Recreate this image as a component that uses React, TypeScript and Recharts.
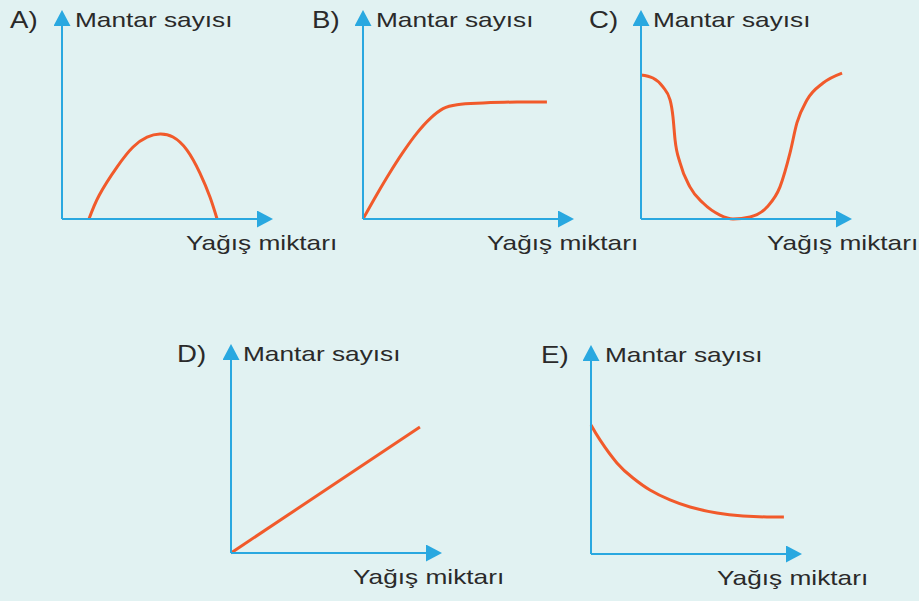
import React from 'react';
import { LineChart, Line, XAxis, YAxis } from 'recharts';

// Panel labels and axis titles
const panelKeys = ['A', 'B', 'C', 'D', 'E'];
const panelLetters = ['A)', 'B)', 'C)', 'D)', 'E)'];
const yAxisTitle = 'Mantar sayısı';
const xAxisTitle = 'Yağış miktarı';

// Curve values (0..100 along each axis)
const curveAX = [12.9, 17.8, 26.3, 34.0, 40.7, 46.9, 53.1, 59.8, 66.0, 70.8, 74.2];
const curveAY = [0, 11.5, 25.1, 34.8, 39.6, 41.1, 39.6, 33.3, 22.2, 10.6, 0];

const curveBX = [0, 6.7, 12.9, 19.1, 25.8, 32.1, 38.3, 45.0, 57.4, 73.7, 88.0];
const curveBY = [0, 12.0, 22.5, 32.2, 41.5, 48.5, 53.3, 55.2, 56.0, 56.5, 56.5];

const curveCX = [0, 5.7, 10.5, 13.9, 15.3, 16.3, 18.7, 23.4, 29.7, 37.8, 44.0, 52.2, 60.3, 66.5, 71.3, 74.6, 79.4, 87.1, 96.2];
const curveCY = [69.6, 68.1, 63.8, 57.5, 49.3, 38.2, 27.1, 15.5, 7.7, 1.9, 0, 1.0, 5.8, 15.5, 31.9, 46.4, 57.5, 65.7, 70.5];

const curveDX = [0, 90.4];
const curveDY = [0, 60.9];

const curveEX = [0, 4.3, 12.4, 20.1, 28.2, 37.8, 47.4, 60.3, 72.7, 84.2, 92.3];
const curveEY = [62.3, 55.1, 44.0, 36.7, 30.9, 26.1, 22.7, 19.8, 18.4, 17.9, 17.9];

const zip = (xs: number[], ys: number[]) => xs.map((x, i) => ({ x, y: ys[i] }));

const panelData: Record<string, { x: number; y: number }[]> = {
  A: zip(curveAX, curveAY),
  B: zip(curveBX, curveBY),
  C: zip(curveCX, curveCY),
  D: zip(curveDX, curveDY),
  E: zip(curveEX, curveEY),
};

type CurveType = 'monotone' | 'linear' | 'natural';

// layout (pixels) for each small panel
const layout: Record<string, { ox: number; oy: number; letterX: number; yTitleX: number; xTitleX: number; curve: CurveType }> = {
  A: { ox: 62, oy: 219, letterX: 10, yTitleX: 75, xTitleX: 186, curve: 'natural' },
  B: { ox: 363, oy: 219, letterX: 312, yTitleX: 376, xTitleX: 487, curve: 'monotone' },
  C: { ox: 641, oy: 219, letterX: 589, yTitleX: 653, xTitleX: 767, curve: 'monotone' },
  D: { ox: 231, oy: 553, letterX: 177, yTitleX: 243, xTitleX: 353, curve: 'linear' },
  E: { ox: 591, oy: 554, letterX: 541, yTitleX: 605, xTitleX: 717, curve: 'natural' },
};

const PLOT_W = 209;
const PLOT_H = 207;
const PAD = 12;
const AXIS_BLUE = '#29a8e0';
const CURVE_RED = '#f15a2b';
const TEXT_COLOR = '#2a2a2a';
const BG = '#e1f2f2';

const Panel = ({ id }: { id: string }) => {
  const l = layout[id];
  const markerId = `arrow-${id}`;
  return (
    <div style={{ position: 'absolute', left: l.ox - PAD, top: l.oy - PLOT_H - PAD }}>
      <LineChart
        width={PLOT_W + 2 * PAD}
        height={PLOT_H + 2 * PAD}
        data={panelData[id]}
        margin={{ top: PAD, right: PAD, bottom: PAD - 1, left: PAD - 1 }}
      >
        <defs>
          <marker
            id={markerId}
            markerUnits="userSpaceOnUse"
            markerWidth={16}
            markerHeight={17}
            viewBox="0 0 16 17"
            refX={14}
            refY={8.5}
            orient="auto-start-reverse"
          >
            <path d="M0,0 L16,8.5 L0,17 Z" fill={AXIS_BLUE} />
          </marker>
        </defs>
        <XAxis
          type="number"
          dataKey="x"
          domain={[0, 100]}
          height={1}
          tick={false}
          tickLine={false}
          axisLine={{ stroke: AXIS_BLUE, strokeWidth: 2, markerEnd: `url(#${markerId})` }}
        />
        <YAxis
          type="number"
          domain={[0, 100]}
          width={1}
          tick={false}
          tickLine={false}
          axisLine={{ stroke: AXIS_BLUE, strokeWidth: 2, markerStart: `url(#${markerId})` }}
        />
        <Line
          dataKey="y"
          type={l.curve}
          stroke={CURVE_RED}
          strokeWidth={3}
          dot={false}
          activeDot={false}
          isAnimationActive={false}
        />
      </LineChart>
    </div>
  );
};

const Label = ({ x, y, text, size, stretch }: { x: number; y: number; text: string; size: number; stretch: number }) => (
  <text
    transform={`translate(${x},${y}) scale(${stretch},1)`}
    fontFamily="'Liberation Sans', Arial, sans-serif"
    fontSize={size}
    fill={TEXT_COLOR}
  >
    {text}
  </text>
);

export default function App() {
  return (
    <div style={{ position: 'absolute', left: 0, top: 0, width: 919, height: 601, background: BG, overflow: 'hidden' }}>
      {panelKeys.map((k) => (
        <Panel key={k} id={k} />
      ))}
      <svg width={919} height={601} style={{ position: 'absolute', left: 0, top: 0, pointerEvents: 'none' }}>
        {panelKeys.map((k, i) => {
          const l = layout[k];
          const topBase = l.oy - 192;
          return (
            <g key={k}>
              <Label x={l.letterX} y={topBase + 1} text={panelLetters[i]} size={23} stretch={1.2} />
              <Label x={l.yTitleX} y={topBase} text={yAxisTitle} size={21} stretch={1.25} />
              <Label x={l.xTitleX} y={l.oy + 31} text={xAxisTitle} size={21} stretch={1.25} />
            </g>
          );
        })}
      </svg>
    </div>
  );
}
